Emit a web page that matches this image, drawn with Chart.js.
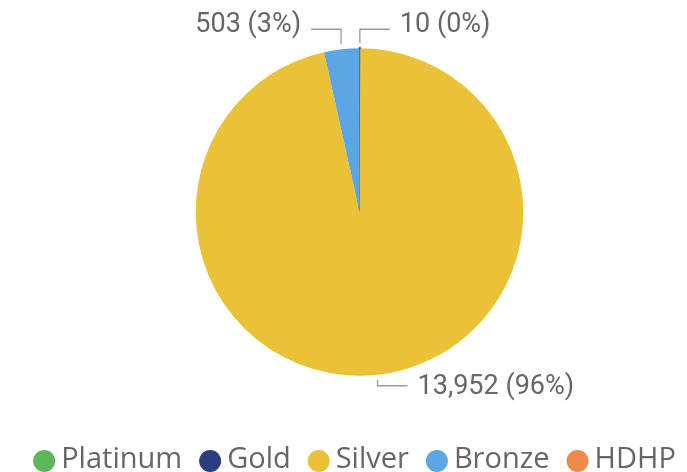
<!DOCTYPE html>
<html lang="en">
<head>
  <meta charset="UTF-8">
  <title>Members by Metal Level</title>
  <script src="https://cdn.jsdelivr.net/npm/chart.js"></script>
  <style>
    html, body { margin: 0; padding: 0; background: #fff; }
    #wrap { width: 687px; height: 472px; position: relative; }
  </style>
</head>
<body>
  <div id="wrap"><canvas id="pieChart"></canvas></div>

  <script>
    // chart data
    const categories = ['Platinum', 'Gold', 'Silver', 'Bronze', 'HDHP'];
    const members = [0, 10, 13952, 503, 0];
    const sliceColors = ['#5DB65A', '#2B3E80', '#E9C238', '#5CA6E6', '#EE8A4A'];

    const total = members.reduce((a, b) => a + b, 0);

    function labelText(v) {
      return v.toLocaleString('en-US') + ' (' + Math.round(v / total * 100) + '%)';
    }

    // outside labels with elbow leader lines
    const leaderLabels = {
      id: 'leaderLabels',
      afterDatasetsDraw(chart) {
        const ctx = chart.ctx;
        const arcs = chart.getDatasetMeta(0).data;
        ctx.save();
        ctx.font = '27px Roboto';
        ctx.textBaseline = 'middle';
        arcs.forEach((arc, i) => {
          const v = members[i];
          if (!v) return;
          const mid = (arc.startAngle + arc.endAngle) / 2;
          const r = arc.outerRadius;
          const x0 = arc.x + Math.cos(mid) * (r + 5);
          const y0 = arc.y + Math.sin(mid) * (r + 5);
          const top = y0 < arc.y;
          const ly = top ? arc.y - r - 19 : arc.y + r + 10;
          const dir = x0 < arc.x - 1 ? -1 : 1;
          const x1 = x0 + dir * 30;
          ctx.strokeStyle = '#9a9a9a';
          ctx.lineWidth = 1.3;
          ctx.beginPath();
          ctx.moveTo(x0, y0);
          ctx.lineTo(x0, ly);
          ctx.lineTo(x1, ly);
          ctx.stroke();
          ctx.fillStyle = '#666666';
          ctx.textAlign = dir < 0 ? 'right' : 'left';
          ctx.fillText(labelText(v), x1 + dir * 10, top ? ly - 4 : ly + 1);
        });
        ctx.restore();
      }
    };

    // legend row along the bottom
    const bottomLegend = {
      id: 'bottomLegend',
      afterDraw(chart) {
        const ctx = chart.ctx;
        ctx.save();
        ctx.font = '29px "Open Sans"';
        ctx.textBaseline = 'middle';
        ctx.textAlign = 'left';
        const rad = 11, gap = 6, space = 17;
        const widths = categories.map(c => ctx.measureText(c).width);
        let w = widths.reduce((a, b) => a + b, 0) + categories.length * (rad * 2 + gap) + (categories.length - 1) * space;
        let x = chart.width / 2 + 11 - w / 2;
        const y = 461;
        categories.forEach((c, i) => {
          ctx.fillStyle = sliceColors[i];
          ctx.beginPath();
          ctx.arc(x + rad, y, rad, 0, Math.PI * 2);
          ctx.fill();
          x += rad * 2 + gap;
          ctx.fillStyle = '#666666';
          ctx.fillText(c, x, y - 1);
          x += widths[i] + space;
        });
        ctx.restore();
      }
    };

    const pieChart = new Chart(document.getElementById('pieChart'), {
      type: 'pie',
      data: {
        labels: categories,
        datasets: [{
          data: members,
          backgroundColor: sliceColors,
          borderColor: sliceColors,
          // thin slices get an outline in their own colour so they stay visible
          borderWidth: members.map(v => (v > 0 && v / total < 0.005 ? 2.5 : 0))
        }]
      },
      options: {
        responsive: true,
        maintainAspectRatio: false,
        animation: false,
        layout: { padding: { top: 47, bottom: 95, left: 32, right: 0 } },
        plugins: {
          legend: { display: false },
          tooltip: { enabled: false }
        }
      },
      plugins: [leaderLabels, bottomLegend]
    });
  </script>
</body>
</html>
